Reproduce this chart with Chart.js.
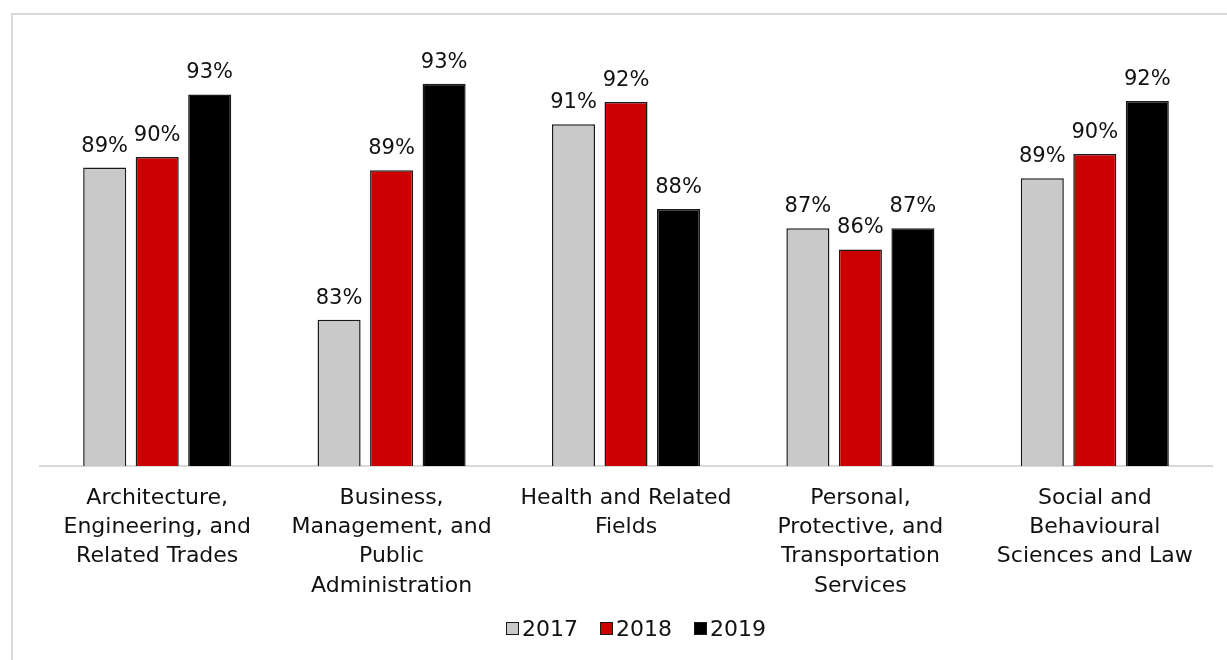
<!DOCTYPE html>
<html>
<head>
<meta charset="utf-8">
<script src="https://cdn.jsdelivr.net/npm/chart.js@4.4.1/dist/chart.umd.min.js"></script>
<style>
  body { margin: 0; background: #fff; overflow: hidden; font-family: 'DejaVu Sans', sans-serif; }
  .frame {
    position: absolute; left: 11px; top: 13px;
    width: 1260px; height: 700px;
    border: 2px solid #d9d9d9;
  }
  .chart-box { position: absolute; left: 0; top: 0; width: 1227px; height: 660px; }
  .legend {
    position: absolute; left: 506px; top: 613px; height: 30px;
    display: flex; align-items: center; gap: 22px;
    font-size: 22px; color: #111;
  }
  .legend span { display: flex; align-items: center; }
  .legend i {
    display: inline-block; width: 11px; height: 11px;
    border: 1px solid #1a1a1a; margin-right: 3px;
  }
</style>
</head>
<body>
<div class="frame"></div>
<div class="chart-box"><canvas id="rateChart"></canvas></div>
<div class="legend" id="legend"></div>
<script>
const categories = [
  ['Architecture,', 'Engineering, and', 'Related Trades'],
  ['Business,', 'Management, and', 'Public', 'Administration'],
  ['Health and Related', 'Fields'],
  ['Personal,', 'Protective, and', 'Transportation', 'Services'],
  ['Social and', 'Behavioural', 'Sciences and Law']
];
const years = ['2017', '2018', '2019'];
const rates2017 = [0.8947, 0.8286, 0.9135, 0.8683, 0.8901];
const rates2018 = [0.8993, 0.8935, 0.9232, 0.8591, 0.9006];
const rates2019 = [0.9265, 0.9311, 0.8767, 0.8683, 0.9236];
const colors = ['#c9c9c9', '#cc0000', '#000000'];

const FONT = "'DejaVu Sans', sans-serif";
const TEXT = '#111111';

// percentage labels above each bar
const valueLabels = {
  id: 'valueLabels',
  afterDatasetsDraw(chart) {
    const ctx = chart.ctx;
    ctx.save();
    ctx.font = `21px ${FONT}`;
    ctx.fillStyle = TEXT;
    ctx.textAlign = 'center';
    ctx.textBaseline = 'bottom';
    chart.data.datasets.forEach((ds, i) => {
      chart.getDatasetMeta(i).data.forEach((bar, j) => {
        ctx.fillText(Math.round(ds.data[j] * 100) + '%', bar.x, bar.y - 11);
      });
    });
    ctx.restore();
  }
};

const chart = new Chart(document.getElementById('rateChart'), {
  type: 'bar',
  data: {
    labels: categories,
    datasets: [
      { label: years[0], data: rates2017, backgroundColor: colors[0], borderColor: '#1a1a1a' },
      { label: years[1], data: rates2018, backgroundColor: colors[1], borderColor: '#1a1a1a' },
      { label: years[2], data: rates2019, backgroundColor: colors[2], borderColor: '#1a1a1a' }
    ]
  },
  options: {
    responsive: true,
    maintainAspectRatio: false,
    animation: false,
    layout: { padding: { left: 40, right: 15, top: 30, bottom: 42 } },
    datasets: {
      bar: { categoryPercentage: 0.672, barPercentage: 0.82, borderWidth: 1.5 }
    },
    scales: {
      x: {
        grid: { display: false, drawTicks: false },
        border: { display: true, color: '#d9d9d9', width: 2 },
        ticks: {
          color: TEXT,
          font: { family: FONT, size: 22, lineHeight: 1.34 },
          padding: 17,
          maxRotation: 0,
          autoSkip: false
        }
      },
      y: {
        display: false,
        min: 0.765,
        max: 0.9545
      }
    },
    plugins: {
      legend: { display: false },
      tooltip: { enabled: false }
    }
  },
  plugins: [valueLabels]
});

// legend row built from the chart's datasets
document.getElementById('legend').innerHTML = chart.data.datasets
  .map(ds => `<span><i style="background:${ds.backgroundColor}"></i>${ds.label}</span>`)
  .join('');
</script>
</body>
</html>
